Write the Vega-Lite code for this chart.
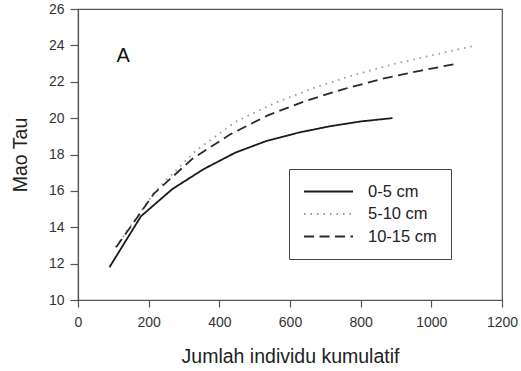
{
  "$schema": "https://vega.github.io/schema/vega-lite/v6.json",
  "width": 424,
  "height": 291,
  "autosize": {"type": "none"},
  "padding": {"left": 78, "top": 9, "right": 19, "bottom": 71},
  "background": "white",
  "config": {
    "font": "Liberation Sans",
    "view": {"stroke": "#555", "strokeWidth": 1.2},
    "axis": {"grid": false, "domainColor": "#555", "tickColor": "#555", "labelColor": "#333", "titleColor": "#222", "titleFontWeight": "normal", "labelFontSize": 14, "titleFontSize": 19.5, "domainWidth": 1.2, "tickWidth": 1.2, "labelOverlap": false, "labelFlush": false, "format": "d"}
  },
  "datasets": {
    "curves": [
      {"depth": "0-5 cm", "n": 89, "tau": 11.8},
      {"depth": "0-5 cm", "n": 178, "tau": 14.6},
      {"depth": "0-5 cm", "n": 267, "tau": 16.1},
      {"depth": "0-5 cm", "n": 356, "tau": 17.2},
      {"depth": "0-5 cm", "n": 445, "tau": 18.1},
      {"depth": "0-5 cm", "n": 534, "tau": 18.75},
      {"depth": "0-5 cm", "n": 623, "tau": 19.2},
      {"depth": "0-5 cm", "n": 712, "tau": 19.55},
      {"depth": "0-5 cm", "n": 801, "tau": 19.82},
      {"depth": "0-5 cm", "n": 890, "tau": 20.0},
      {"depth": "5-10 cm", "n": 106, "tau": 12.9},
      {"depth": "5-10 cm", "n": 219, "tau": 16.0},
      {"depth": "5-10 cm", "n": 333, "tau": 18.2},
      {"depth": "5-10 cm", "n": 446, "tau": 19.8},
      {"depth": "5-10 cm", "n": 559, "tau": 20.85},
      {"depth": "5-10 cm", "n": 673, "tau": 21.7},
      {"depth": "5-10 cm", "n": 786, "tau": 22.4},
      {"depth": "5-10 cm", "n": 899, "tau": 23.0},
      {"depth": "5-10 cm", "n": 1013, "tau": 23.5},
      {"depth": "5-10 cm", "n": 1126, "tau": 24.0},
      {"depth": "10-15 cm", "n": 108, "tau": 12.9},
      {"depth": "10-15 cm", "n": 215, "tau": 15.85},
      {"depth": "10-15 cm", "n": 323, "tau": 17.75},
      {"depth": "10-15 cm", "n": 430, "tau": 19.1},
      {"depth": "10-15 cm", "n": 537, "tau": 20.15},
      {"depth": "10-15 cm", "n": 645, "tau": 20.95},
      {"depth": "10-15 cm", "n": 752, "tau": 21.6},
      {"depth": "10-15 cm", "n": 859, "tau": 22.15},
      {"depth": "10-15 cm", "n": 967, "tau": 22.6},
      {"depth": "10-15 cm", "n": 1074, "tau": 23.0}
    ],
    "panel": [
      {"label": "A", "n": 128, "tau": 23.42}
    ]
  },
  "encoding": {
    "x": {"field": "n", "type": "quantitative", "scale": {"domain": [0, 1200], "nice": false}, "axis": {"values": [0, 200, 400, 600, 800, 1000, 1200], "tickSize": 7, "labelPadding": 8, "title": "Jumlah individu kumulatif", "titlePadding": 18}},
    "y": {"field": "tau", "type": "quantitative", "scale": {"domain": [10, 26], "nice": false, "zero": false}, "axis": {"values": [10, 12, 14, 16, 18, 20, 22, 24, 26], "labelOverlap": false, "tickSize": 8, "labelPadding": 6, "title": "Mao Tau", "titlePadding": 18}}
  },
  "layer": [
    {
      "data": {"name": "curves"},
      "mark": {"type": "line", "strokeWidth": 1.8},
      "encoding": {
        "strokeDash": {"field": "depth", "type": "nominal", "scale": {"domain": ["0-5 cm", "5-10 cm", "10-15 cm"], "range": [[1, 0], [1.5, 5], [10, 5.5]]}, "legend": {"title": null, "orient": "none", "legendX": 211, "legendY": 160, "symbolType": "stroke", "symbolSize": 2401, "symbolStrokeWidth": 1.8, "clipHeight": 17, "labelOffset": 14, "labelFontSize": 16.5, "labelColor": "#222", "rowPadding": 5.5, "padding": 14, "strokeColor": "#444", "fillColor": "white"}},
        "color": {"field": "depth", "type": "nominal", "scale": {"domain": ["0-5 cm", "5-10 cm", "10-15 cm"], "range": ["#1a1a1a", "#999999", "#2a2a2a"]}, "legend": {"title": null, "orient": "none", "legendX": 211, "legendY": 160, "symbolType": "stroke", "symbolSize": 2401, "symbolStrokeWidth": 1.8, "clipHeight": 17, "labelOffset": 14, "labelFontSize": 16.5, "labelColor": "#222", "rowPadding": 5.5, "padding": 14, "strokeColor": "#444", "fillColor": "white"}}
      }
    },
    {
      "data": {"name": "panel"},
      "mark": {"type": "text", "fontSize": 20, "align": "center", "baseline": "middle", "color": "#111"},
      "encoding": {
        "text": {"field": "label"}
      }
    }
  ]
}
